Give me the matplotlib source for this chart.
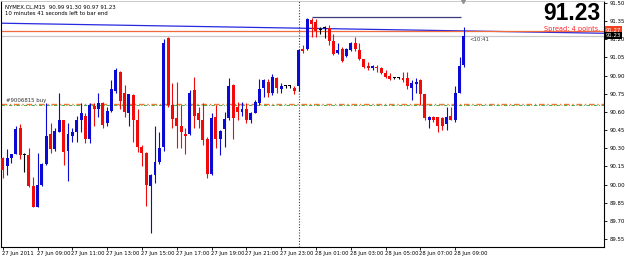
import matplotlib.pyplot as plt
import matplotlib.transforms as mtransforms
from matplotlib import font_manager
import numpy as np

# --------------------------------------------------
# DATA (NYMEX.CL, M15, 27 Jun 07:00 -> 28 Jun 09:30)
# --------------------------------------------------

opens = [
    90.22, 90.15, 90.22, 90.25, 90.47, 90.24, 90.24, 89.99, 89.81, 90.00,
    90.17, 90.42, 90.29, 90.43, 90.53, 90.28, 90.40, 90.43, 90.53, 90.57,
    90.38, 90.65, 90.62, 90.67, 90.51, 90.61, 90.77, 90.93, 90.76, 90.59,
    90.74, 90.53, 90.31, 90.26, 89.99, 90.08, 90.19, 90.31, 91.21, 90.66,
    90.55, 90.48, 90.42, 90.42, 90.78, 90.59, 90.53, 90.38, 90.09, 90.56,
    90.38, 90.46, 90.55, 90.82, 90.64, 90.60, 90.62, 90.53, 90.59, 90.67,
    90.80, 90.85, 90.76, 90.88, 90.79, 90.81, 90.81, 90.80, 90.81, 91.12,
    91.12, 91.36, 91.34, 91.28, 91.29, 91.29, 91.19, 91.09, 91.12, 91.06,
    91.11, 91.17, 91.11, 91.04, 90.98, 90.96, 90.97, 90.96, 90.92, 90.90,
    90.88, 90.88, 90.88, 90.88, 90.80, 90.83, 90.86, 90.75, 90.53, 90.56,
    90.56, 90.55, 90.50, 90.57, 90.53, 90.76, 90.99,
]

highs = [
    90.23, 90.29, 90.25, 90.48, 90.50, 90.26, 90.30, 90.06, 90.26, 90.18,
    90.67, 90.51, 90.47, 90.76, 90.53, 90.51, 90.47, 90.57, 90.67, 90.59,
    90.67, 90.67, 90.76, 90.68, 90.64, 90.86, 90.96, 90.94, 90.82, 90.75,
    90.75, 90.62, 90.33, 90.27, 90.09, 90.48, 90.43, 91.20, 91.22, 90.84,
    90.85, 90.66, 90.47, 90.78, 90.89, 90.64, 90.67, 90.39, 90.59, 90.66,
    90.45, 90.60, 90.88, 90.83, 90.68, 90.68, 90.67, 90.60, 90.70, 90.87,
    90.87, 90.87, 90.91, 90.89, 90.84, 90.82, 90.82, 90.81, 91.12, 91.15,
    91.38, 91.38, 91.37, 91.30, 91.31, 91.32, 91.24, 91.17, 91.14, 91.13,
    91.18, 91.22, 91.17, 91.04, 91.01, 90.99, 90.99, 90.97, 90.95, 90.92,
    90.89, 90.89, 90.93, 90.93, 90.86, 90.88, 90.87, 90.75, 90.57, 90.57,
    90.56, 90.56, 90.64, 90.64, 90.81, 91.05, 91.30,
]

lows = [
    90.05, 90.08, 90.18, 90.25, 90.21, 90.10, 89.98, 89.81, 89.81, 89.99,
    90.16, 90.26, 90.28, 90.43, 90.16, 90.03, 90.35, 90.35, 90.43, 90.34,
    90.34, 90.48, 90.56, 90.47, 90.48, 90.60, 90.76, 90.62, 90.56, 90.48,
    90.35, 90.27, 90.15, 89.82, 89.60, 90.01, 90.17, 90.28, 90.64, 90.47,
    90.30, 90.30, 90.25, 90.41, 90.47, 90.47, 90.33, 90.05, 90.08, 90.30,
    90.24, 90.31, 90.53, 90.38, 90.53, 90.57, 90.51, 90.51, 90.59, 90.66,
    90.72, 90.72, 90.74, 90.76, 90.76, 90.80, 90.80, 90.75, 90.77, 91.09,
    91.11, 91.22, 91.22, 91.24, 91.21, 91.15, 91.07, 91.08, 91.01, 91.05,
    91.10, 91.10, 91.03, 90.96, 90.95, 90.95, 90.93, 90.91, 90.88, 90.86,
    90.87, 90.87, 90.85, 90.79, 90.70, 90.76, 90.66, 90.53, 90.47, 90.52,
    90.43, 90.45, 90.45, 90.53, 90.52, 90.76, 90.97,
]

closes = [
    90.12, 90.22, 90.25, 90.46, 90.24, 90.24, 89.99, 89.81, 90.00, 90.17,
    90.40, 90.29, 90.44, 90.53, 90.27, 90.42, 90.43, 90.53, 90.59, 90.38,
    90.66, 90.62, 90.67, 90.49, 90.61, 90.79, 90.95, 90.69, 90.60, 90.75,
    90.53, 90.31, 90.26, 90.00, 90.08, 90.19, 90.30, 91.17, 90.66, 90.54,
    90.48, 90.43, 90.40, 90.76, 90.57, 90.53, 90.37, 90.09, 90.55, 90.38,
    90.44, 90.54, 90.81, 90.55, 90.60, 90.62, 90.53, 90.59, 90.68, 90.79,
    90.86, 90.76, 90.89, 90.80, 90.81, 90.81, 90.81, 90.77, 91.11, 91.10,
    91.37, 91.33, 91.27, 91.28, 91.29, 91.19, 91.08, 91.11, 91.02, 91.12,
    91.17, 91.12, 91.04, 90.97, 90.96, 90.98, 90.96, 90.92, 90.89, 90.87,
    90.88, 90.88, 90.86, 90.81, 90.84, 90.85, 90.75, 90.55, 90.56, 90.53,
    90.48, 90.48, 90.56, 90.53, 90.76, 90.98, 91.23,
]

x_tick_labels = [
    "27 Jun 2011", "27 Jun 09:00", "27 Jun 11:00", "27 Jun 13:00",
    "27 Jun 15:00", "27 Jun 17:00", "27 Jun 19:00", "27 Jun 21:00",
    "27 Jun 23:00", "28 Jun 01:00", "28 Jun 03:00", "28 Jun 05:00",
    "28 Jun 07:00", "28 Jun 09:00",
]

y_ticks = [
    89.55, 89.70, 89.85, 90.00, 90.15, 90.30, 90.45,
    90.60, 90.75, 90.90, 91.05, 91.20, 91.35, 91.50,
]

bid = 91.23
ask = 91.27
order_price = 90.665
day_high = 91.384
trend_start = 91.333
trend_end = 91.250

header_line_1 = "NYMEX.CL,M15  90.99 91.30 90.97 91.23"
header_line_2 = "10 minutes 41 seconds left to bar end"


# --------------------------------------------------
# FONT FOR THE BIG PRICE
# --------------------------------------------------

def have_font(name):
    try:
        font_manager.findfont(font_manager.FontProperties(family=name),
                              fallback_to_default=False)
        return True
    except ValueError:
        return False


if have_font("Liberation Sans Narrow"):
    big_family, big_size = "Liberation Sans Narrow", 19
else:
    big_family, big_size = "Liberation Sans", 16.5


# --------------------------------------------------
# FIGURE
# --------------------------------------------------

W, H = 625, 257
fig = plt.figure(figsize=(W / 100, H / 100), dpi=100)
ax = fig.add_axes([1.5 / W, 1 - 247 / H, (604 - 1.5) / W, 246 / H])

n = len(opens)
x = np.arange(n)
o = np.array(opens)
c = np.array(closes)

blue = "#0a0ad2"
red = "#f00a0a"
colors = np.where(c > o, blue, np.where(c < o, red, "black"))

# wicks
ax.vlines(x, lows, highs, colors=colors, linewidth=0.8, zorder=3)

# bodies
bottoms = np.minimum(o, c)
heights = np.maximum(np.abs(c - o), 0.009)
ax.bar(x, heights, bottom=bottoms, width=0.68, color=colors,
       linewidth=0, zorder=4)


# --------------------------------------------------
# LINES ON THE CHART
# --------------------------------------------------

# sloped trend line across the whole chart
ax.plot([-0.3, 138.2], [trend_start, trend_end], color="#2828e0",
        linewidth=0.9, zorder=2)

# day high line
ax.hlines(day_high, 71, 105.3, color="#3a3a78", linewidth=0.9, zorder=2)

# ask / bid lines
ax.axhline(ask, color="#f06a3c", linewidth=0.9, zorder=2)
ax.axhline(bid, color="#c8c8c8", linewidth=0.9, zorder=1)

# order line
ax.axhline(order_price, color="#f07830", linewidth=1.0,
           linestyle=(0, (4, 2, 1, 2)), zorder=2)
ax.axhline(order_price - 0.005, color="#30a030", linewidth=0.6,
           linestyle=(0, (4, 2, 1, 2)), zorder=2)
ax.text(0.8, order_price + 0.012, "#9006815 buy", fontsize=3.9,
        color="#303030", va="bottom", ha="left")

# day separator
ax.axvline(68, color="#404040", linewidth=0.8, linestyle=(0, (1, 1.5)),
           zorder=1)

# bar timer
ax.text(107.3, bid - 0.01, "<10:41", fontsize=3.9, color="#404040",
        va="top", ha="left")

# chart shift marker
ax.plot([105.8], [1.0], marker="v", markersize=3, color="#909090",
        transform=mtransforms.blended_transform_factory(ax.transData,
                                                        ax.transAxes),
        clip_on=False, zorder=6)


# --------------------------------------------------
# AXES
# --------------------------------------------------

ax.set_xlim(-0.28, 138.2)
ax.set_ylim(89.4835, 91.5165)

ax.set_xticks(x[::8])
ax.set_xticklabels(x_tick_labels, fontsize=3.8, ha="left")
ax.set_yticks(y_ticks)
ax.set_yticklabels([f"{v:.2f}" for v in y_ticks], fontsize=3.9)

ax.yaxis.tick_right()
ax.tick_params(axis="y", direction="out", length=2.2, width=0.6, pad=1.5)
ax.tick_params(axis="x", direction="out", length=2.2, width=0.6, pad=1.0)
for lab in ax.get_xticklabels():
    lab.set_transform(lab.get_transform() +
                      mtransforms.ScaledTranslation(-1 / 100, 0,
                                                    fig.dpi_scale_trans))

for side in ["left", "bottom", "right"]:
    ax.spines[side].set_color("black")
    ax.spines[side].set_linewidth(0.8)
ax.spines["top"].set_color("#c0c0c0")
ax.spines["top"].set_linewidth(0.6)


# --------------------------------------------------
# TEXTS
# --------------------------------------------------

fig.text(5 / W, 1 - 7 / H, header_line_1, fontsize=3.9, color="black",
         va="center", ha="left")
fig.text(5 / W, 1 - 13.5 / H, header_line_2, fontsize=3.9, color="black",
         va="center", ha="left")

fig.text(601 / W, 1 - 14 / H, "91.23", fontsize=big_size,
         fontweight="bold", family=[big_family, "DejaVu Sans"],
         color="black", va="center", ha="right")

fig.text(600 / W, 1 - 29.5 / H, "Spread: 4 points.", fontsize=4.7,
         color="#ff2020", va="center", ha="right")

# price boxes on the right axis
y_ask = 1 - 30 / H
y_bid = 1 - 35.7 / H
fig.text(606 / W, y_ask, "91.27", fontsize=3.9, color="white",
         va="center", ha="left",
         bbox=dict(boxstyle="square,pad=0.2", fc="#f04020", ec="none"))
fig.text(606 / W, y_bid, "91.23", fontsize=3.9, color="white",
         va="center", ha="left",
         bbox=dict(boxstyle="square,pad=0.2", fc="black", ec="none"))

fig.savefig("out.png", dpi=100, facecolor="white")
